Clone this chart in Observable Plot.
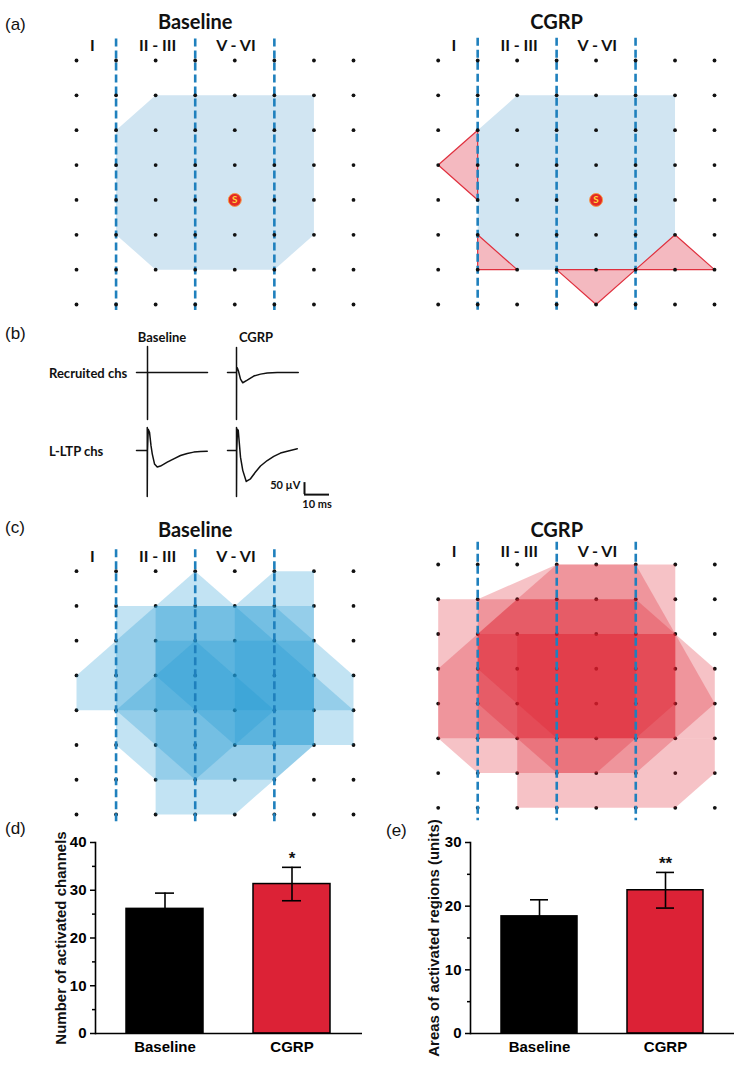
<!DOCTYPE html>
<html>
<head>
<meta charset="utf-8">
<script src="https://cdn.jsdelivr.net/npm/d3@7"></script>
<script src="https://cdn.jsdelivr.net/npm/@observablehq/plot@0.6"></script>
<style>
  html, body { margin: 0; padding: 0; background: #fff; }
  #fig { position: relative; width: 742px; height: 1067px; overflow: hidden; background: #fff; }
  #fig svg { overflow: visible; }
  .lbl { position: absolute; white-space: nowrap; color: #111; line-height: 1; }
  .panel { font-family: "Liberation Sans", Arial, sans-serif; font-size: 17px; }
  .sub { font-family: Lato, sans-serif; font-weight: bold; font-size: 13px; }
</style>
</head>
<body>
<div id="fig"></div>
<script>
// ---------------- data ----------------
const gridCols = [0, 1, 2, 3, 4, 5, 6, 7];
const gridRows = [0, 1, 2, 3, 4, 5, 6, 7];
const layerBounds = [1, 3, 5];
const layerLabels = ["I", "II - III", "V - VI"];
const layerLabelCols = [0.4, 2.05, 4.03];
const stimSite = [[4, 4]];

// (a) activated regions, [column, row] of electrode grid
const aBaselineArea = [[[2,1],[6,1],[6,5],[5,6],[2,6],[1,5],[1,2]]];
const aCgrpArea = [[[2,1],[6,1],[6,5],[5,6],[1,6],[1,2]]];
const aCgrpRecruited = [
  [[0,3],[1,2],[1,4]],
  [[1,5],[1,6],[2,6]],
  [[3,6],[5,6],[4,7]],
  [[5,6],[6,5],[7,6]]
];

// (c) overlaid activated regions of all slices
const cBaselineAreas = [
  [[0,3],[3,0],[7,4],[0,4]],
  [[4,1],[5,0],[6,0],[6,5],[4,5]],
  [[1,1],[6,1],[6,5],[5,6],[2,6],[1,5]],
  [[2,1],[5,1],[7,3],[7,5],[4,5],[2,3]],
  [[2,2],[6,2],[6,5],[5,6],[4,7],[2,7]],
  [[1,4],[3,2],[5,4],[3,6]]
];
const cCgrpAreas = [
  [[0,1],[1,1],[3,0],[6,0],[6,5],[5,6],[1,6],[0,5]],
  [[0,3],[2,1],[5,1],[6,2],[6,5],[0,5]],
  [[2,5],[7,5],[7,6],[6,7],[2,7]],
  [[1,2],[6,2],[6,4],[4,6],[3,6],[1,4]],
  [[2,2],[6,2],[7,3],[7,5],[2,5]],
  [[1,2],[3,0],[5,0],[7,4],[6,5],[1,5]],
  [[1,1],[5,1],[5,5],[3,5],[1,3]]
];

// (b) field potential traces: [time (ms), amplitude (µV)]
const traceRecruitedBaseline = [[0,0],[4.3,0],[4.4,0],[4.4,108],[4.4,-196],[4.45,0],[10,0],[20,0],[28.4,0]];
const traceRecruitedCgrp = [[0,0],[3.5,0],[3.6,0],[3.6,104],[3.6,-196],[3.65,10],[3.9,20],[4.4,5],[5.2,-28],[6.1,-43],[7.9,-32],[10.5,-15],[13.2,-7],[15.9,-2],[19.9,0],[28.3,0]];
const traceLtpBaseline = [[0,0],[4.2,0],[4.3,0],[4.3,95],[4.3,-192],[4.4,0],[4.7,88],[5.2,76],[5.8,20],[6.3,-14],[7.2,-56],[8.3,-69],[9.6,-65],[12.3,-49],[14.9,-35],[17.6,-21],[20.3,-12.5],[22.9,-7],[25.6,-4],[28.3,-3]];
const traceLtpCgrp = [[0,0],[3.5,0],[3.6,0],[3.6,95],[3.6,-192],[3.7,0],[4.0,88],[4.3,83],[5.2,-28],[6.1,-83],[7.5,-129],[9.2,-118],[11.2,-90],[13.2,-65],[15.9,-42],[18.5,-25],[21.2,-11],[23.9,-3],[27.9,7]];
const scaleBarMs = 10;
const scaleBarUV = 50;

// (d), (e) summary bars
const conditions = ["Baseline", "CGRP"];
const channelsMean = [26.1, 31.3];
const channelsSem = [3.3, 3.5];
const channelsSig = ["", "*"];
const areaMean = [18.4, 22.5];
const areaSem = [2.6, 2.8];
const areaSig = ["", "**"];
const barColors = ["#000000", "#dc2236"];

// ---------------- drawing ----------------
const fig = document.getElementById("fig");
function place(el, left, top) {
  el.style.position = "absolute";
  el.style.left = left + "px";
  el.style.top = top + "px";
  fig.appendChild(el);
}
function addLabel(text, x, y, cls, anchor) {
  const d = document.createElement("div");
  d.className = "lbl " + cls;
  d.textContent = text;
  d.style.left = x + "px";
  d.style.top = y + "px";
  d.style.transform = anchor === "middle" ? "translate(-50%,-50%)" : "translate(0,-50%)";
  fig.appendChild(d);
}
const toRows = polys => polys.flatMap((p, i) => p.map(([c, r]) => ({id: i, c, r})));

function gridPlot(o) {
  const dots = Plot.dot(d3.cross(gridCols, gridRows), {x: d => d[0], y: d => d[1], r: 1.9, fill: "#111"});
  const marks = [];
  if (o.dotsBelow) marks.push(dots);
  marks.push(Plot.line(toRows(o.areas), {x: "c", y: "r", z: "id", curve: "linear-closed",
    fill: o.fill, fillOpacity: o.fillOpacity, stroke: "none"}));
  if (o.recruited) marks.push(Plot.line(toRows(o.recruited), {x: "c", y: "r", z: "id", curve: "linear-closed",
    fill: "#f4b9c0", stroke: "#e0303e", strokeWidth: 1.2}));
  marks.push(Plot.ruleX(layerBounds, {x: d => d, y1: o.dashTop, y2: o.dashBottom,
    stroke: "#1f80bd", strokeWidth: 2.6, strokeDasharray: "8,4"}));
  if (!o.dotsBelow) marks.push(dots);
  if (o.stim) {
    marks.push(Plot.dot(stimSite, {x: d => d[0], y: d => d[1], r: 6.5, fill: "#e42a24", stroke: "#f59a4a", strokeWidth: 1}));
    marks.push(Plot.text(stimSite, {x: d => d[0], y: d => d[1], text: () => "S", fill: "#ffd83a", fontSize: 10, fontWeight: "bold"}));
  }
  marks.push(Plot.text([o.title], {x: 3, y: o.titleRow, text: d => d, fontSize: 20, fontWeight: "bold", fill: "#111"}));
  marks.push(Plot.text(layerLabels, {x: (d, i) => layerLabelCols[i], y: o.labelRow, text: d => d, fontSize: 16, fontWeight: "bold", fill: "#111"}));
  const svg = Plot.plot({
    width: o.width, height: o.height,
    marginLeft: o.x0 - o.left, marginRight: o.left + o.width - o.x7,
    marginTop: o.y0 - o.top, marginBottom: o.top + o.height - o.y7,
    style: {fontFamily: "Lato, sans-serif", background: "transparent", overflow: "visible"},
    x: {domain: [0, 7], axis: null},
    y: {domain: [0, 7], reverse: true, axis: null},
    marks
  });
  place(svg, o.left, o.top);
}

// (a)
gridPlot({left: 0, top: 0, width: 371, height: 320, x0: 76, x7: 353, y0: 60, y7: 304,
  areas: aBaselineArea, fill: "#d1e5f2", fillOpacity: 1, stim: true,
  title: "Baseline", titleRow: -1.09, labelRow: -0.43, dashTop: -0.62, dashBottom: 7.17});
gridPlot({left: 371, top: 0, width: 371, height: 320, x0: 437.7, x7: 714, y0: 60, y7: 304,
  areas: aCgrpArea, recruited: aCgrpRecruited, fill: "#d1e5f2", fillOpacity: 1, stim: true,
  title: "CGRP", titleRow: -1.1, labelRow: -0.43, dashTop: -0.64, dashBottom: 7.17});

// (c)
gridPlot({left: 0, top: 500, width: 371, height: 330, x0: 76, x7: 353, y0: 570.7, y7: 814,
  areas: cBaselineAreas, fill: "#1f96d4", fillOpacity: 0.27, dotsBelow: true,
  title: "Baseline", titleRow: -1.17, labelRow: -0.40, dashTop: -0.62, dashBottom: 7.25});
gridPlot({left: 371, top: 500, width: 371, height: 330, x0: 437.7, x7: 714.3, y0: 564, y7: 807.3,
  areas: cCgrpAreas, fill: "#dc1e2d", fillOpacity: 0.27, dotsBelow: true,
  title: "CGRP", titleRow: -0.98, labelRow: -0.35, dashTop: -0.64, dashBottom: 7.37});

// (b)
function tracePlot(trace, left, top, withBar) {
  const marks = [Plot.line(trace, {x: d => d[0], y: d => d[1], stroke: "#111", strokeWidth: 1.5})];
  if (withBar) {
    const t0 = 30.8, v0 = -184;
    marks.push(Plot.ruleY([v0], {x1: t0, x2: t0 + scaleBarMs, stroke: "#111", strokeWidth: 2}));
    marks.push(Plot.ruleX([t0], {y1: v0, y2: v0 + scaleBarUV, stroke: "#111", strokeWidth: 2}));
    marks.push(Plot.text([scaleBarUV + " µV"], {x: t0, y: v0 + scaleBarUV * 0.75, dx: -4, textAnchor: "end", text: d => d, fontSize: 11, fontWeight: "bold", fill: "#111"}));
    marks.push(Plot.text([scaleBarMs + " ms"], {x: t0 + scaleBarMs / 2, y: v0, dy: 10, text: d => d, fontSize: 11, fontWeight: "bold", fill: "#111"}));
  }
  const svg = Plot.plot({
    width: 71 + (withBar ? 50 : 0), height: 73 + (withBar ? 25 : 0),
    marginLeft: 0, marginRight: withBar ? 50 : 0, marginTop: 0, marginBottom: withBar ? 25 : 0,
    style: {fontFamily: "Lato, sans-serif", background: "transparent", overflow: "visible"},
    x: {domain: [0, 28.4], axis: null},
    y: {domain: [-196, 108], axis: null},
    marks
  });
  place(svg, left, top);
}
tracePlot(traceRecruitedBaseline, 136, 346, false);
tracePlot(traceRecruitedCgrp, 227, 346, false);
tracePlot(traceLtpBaseline, 136, 424, false);
tracePlot(traceLtpCgrp, 227, 424, true);

addLabel("Baseline", 162, 337, "sub", "middle");
addLabel("CGRP", 256, 337, "sub", "middle");
addLabel("Recruited chs", 49, 373, "sub", "start");
addLabel("L-LTP chs", 49, 451, "sub", "start");

// (d), (e)
function barPlot(o) {
  const rows = conditions.map((c, i) => ({cond: c, mean: o.mean[i], sem: o.sem[i], sig: o.sig[i], color: barColors[i]}));
  const svg = Plot.plot({
    width: o.width, height: o.height,
    marginLeft: o.ml, marginRight: o.mr, marginTop: o.mt, marginBottom: o.mb,
    style: {fontFamily: '"Liberation Sans", Arial, sans-serif', fontSize: "15px", fontWeight: "bold", color: "#000", background: "transparent", overflow: "visible"},
    x: {domain: conditions, paddingInner: o.pi, paddingOuter: o.po, axis: null},
    y: {domain: o.domain, axis: null},
    color: {type: "identity"},
    marks: [
      Plot.barY(rows, {x: "cond", y: "mean", fill: "color", stroke: "#000", strokeWidth: 1.5}),
      Plot.ruleX(rows, {x: "cond", y1: d => d.mean - d.sem, y2: d => d.mean + d.sem, stroke: "#000", strokeWidth: 1.6}),
      Plot.tickY(rows, {x: "cond", y: d => d.mean + d.sem, insetLeft: o.cap, insetRight: o.cap, stroke: "#000", strokeWidth: 1.6}),
      Plot.tickY(rows, {x: "cond", y: d => d.mean - d.sem, insetLeft: o.cap, insetRight: o.cap, stroke: "#000", strokeWidth: 1.6}),
      Plot.text(rows, {x: "cond", y: d => d.mean + d.sem, text: "sig", dy: -9, fontSize: 17, fontWeight: "bold", fill: "#111"}),
      Plot.ruleY([0], {stroke: "#000", strokeWidth: 1.6}),
      Plot.frame({anchor: "left", stroke: "#000", strokeWidth: 1.6}),
      Plot.axisY({ticks: o.ticks, tickSize: 5, tickPadding: 4, label: null, strokeWidth: 1.5, fontWeight: "bold"}),
      Plot.axisY({ticks: o.minor, tickSize: 3, tickFormat: () => "", label: null, strokeWidth: 1.5}),
      Plot.axisX({tickSize: 0, tickPadding: 8, label: null, fontWeight: "bold"}),
      Plot.text([o.label], {frameAnchor: "left", textAnchor: "middle", rotate: -90, dx: o.labelDx, text: d => d, fontSize: 15, fontWeight: "bold", fill: "#111"})
    ]
  });
  place(svg, o.left, o.top);
}
barPlot({left: 0, top: 820, width: 371, height: 247, ml: 95, mr: 9, mt: 22, mb: 34,
  mean: channelsMean, sem: channelsSem, sig: channelsSig, domain: [0, 40],
  ticks: [0, 10, 20, 30, 40], minor: [5, 15, 25, 35], pi: 0.39, po: 0.24, cap: 29,
  label: "Number of activated channels", labelDx: -34});
barPlot({left: 371, top: 820, width: 371, height: 247, ml: 99, mr: 8, mt: 22, mb: 34,
  mean: areaMean, sem: areaSem, sig: areaSig, domain: [0, 30],
  ticks: [0, 10, 20, 30], minor: [5, 15, 25], pi: 0.4, po: 0.24, cap: 29,
  label: "Areas of activated regions (units)", labelDx: -36});

// panel letters
addLabel("(a)", 5, 24, "panel", "start");
addLabel("(b)", 5, 333, "panel", "start");
addLabel("(c)", 5, 527, "panel", "start");
addLabel("(d)", 5, 828, "panel", "start");
addLabel("(e)", 386, 830, "panel", "start");
</script>
</body>
</html>
